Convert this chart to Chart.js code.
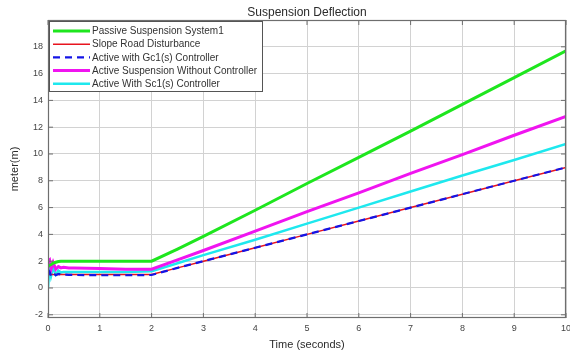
<!DOCTYPE html>
<html lang="en">
<head>
    <meta charset="UTF-8">
    <title>Suspension Deflection</title>
    <script src="https://cdn.jsdelivr.net/npm/chart.js@4.4.1/dist/chart.umd.min.js"></script>
    <style>
        body { margin: 0; background: #fff; }
        #chart { display: block; }
    </style>
</head>
<body>
    <canvas id="chart" width="570" height="356"></canvas>
    <script>
        // time axis (seconds), denser at the start for the transient wiggles
        const time = [0, 0.03, 0.06, 0.1, 0.15, 0.2, 0.25, 0.3, 0.4, 0.5, 1, 1.5, 2, 2.5, 3, 4, 5, 6, 7, 8, 9, 10];

        const passive   = [1.6, 1.7, 1.75, 1.85, 1.92, 1.97, 2.0, 2.0, 2.0, 2.0, 2.0, 2.0, 2.0, 2.9, 3.85, 5.8, 7.8, 9.75, 11.7, 13.7, 15.7, 17.7];
        const road      = [1.0, 1.0, 1.0, 1.0, 1.0, 1.0, 1.0, 1.0, 1.0, 1.0, 1.0, 1.0, 1.0, 1.5, 2.0, 3.0, 4.0, 5.0, 6.0, 7.0, 8.0, 9.0];
        const activeGc  = [1.0, 1.2, 0.9, 1.1, 0.95, 1.05, 1.0, 1.0, 0.98, 0.97, 0.95, 0.95, 0.97, 1.5, 2.0, 3.0, 4.0, 5.0, 6.0, 7.0, 8.0, 9.0];
        const noCtrl    = [2.0, 2.1, 1.4, 1.9, 1.4, 1.6, 1.5, 1.55, 1.5, 1.5, 1.45, 1.4, 1.4, 2.1, 2.8, 4.25, 5.7, 7.1, 8.55, 9.95, 11.4, 12.8];
        const activeSc  = [0.0, 1.8, 0.9, 1.5, 1.0, 1.3, 1.15, 1.2, 1.2, 1.2, 1.2, 1.2, 1.25, 1.85, 2.45, 3.6, 4.8, 6.0, 7.2, 8.4, 9.55, 10.75];

        const yTicks = [-2, 0, 2, 4, 6, 8, 10, 12, 14, 16, 18];
        const seriesNames = [
            'Passive Suspension System1',
            'Slope Road Disturbance',
            'Active with Gc1(s) Controller',
            'Active Suspension Without Controller',
            'Active With Sc1(s) Controller'
        ];

        const FONT = '"Liberation Sans", Arial, sans-serif';

        // matlab-ish frame, tick marks, titles and boxed legend
        const matlabPlugin = {
            id: 'matlab',
            afterDraw(chart) {
                const ctx = chart.ctx;
                const a = chart.chartArea;
                const xs = chart.scales.x, ys = chart.scales.y;
                ctx.save();

                // frame
                ctx.strokeStyle = '#6e6e6e';
                ctx.lineWidth = 1.2;
                ctx.strokeRect(a.left + 0.5, a.top + 0.5, a.right - a.left - 1, a.bottom - a.top - 1);

                // inner tick marks
                ctx.lineWidth = 1;
                ctx.beginPath();
                xs.ticks.forEach(t => {
                    const px = xs.getPixelForValue(t.value);
                    ctx.moveTo(px, a.bottom); ctx.lineTo(px, a.bottom - 5);
                    ctx.moveTo(px, a.top); ctx.lineTo(px, a.top + 5);
                });
                ys.ticks.forEach(t => {
                    const py = ys.getPixelForValue(t.value);
                    ctx.moveTo(a.left, py); ctx.lineTo(a.left + 5, py);
                    ctx.moveTo(a.right, py); ctx.lineTo(a.right - 5, py);
                });
                ctx.stroke();

                // titles
                ctx.fillStyle = '#2b2b2b';
                ctx.textAlign = 'center';
                ctx.textBaseline = 'middle';
                ctx.font = '12px ' + FONT;
                ctx.fillText('Suspension Deflection', (a.left + a.right) / 2, 13);
                ctx.font = '11px ' + FONT;
                ctx.fillText('Time (seconds)', (a.left + a.right) / 2, 345);
                ctx.save();
                ctx.translate(15, (a.top + a.bottom) / 2);
                ctx.rotate(-Math.PI / 2);
                ctx.fillText('meter(m)', 0, 0);
                ctx.restore();

                // legend box
                const bx = a.left + 1, by = a.top + 1, bw = 213, bh = 70;
                ctx.fillStyle = '#fff';
                ctx.fillRect(bx, by, bw, bh);
                ctx.strokeStyle = '#555';
                ctx.lineWidth = 1;
                ctx.strokeRect(bx + 0.5, by + 0.5, bw, bh);

                ctx.font = '10px ' + FONT;
                ctx.textAlign = 'left';
                chart.data.datasets.forEach((ds, i) => {
                    const y = by + 10 + i * 13.2;
                    ctx.strokeStyle = ds.borderColor;
                    ctx.lineWidth = ds.borderWidth;
                    ctx.setLineDash(ds.borderDash || []);
                    ctx.beginPath();
                    ctx.moveTo(bx + 4, y);
                    ctx.lineTo(bx + 41, y);
                    ctx.stroke();
                    ctx.setLineDash([]);
                    ctx.fillStyle = '#333';
                    ctx.fillText(ds.label, bx + 43, y + 0.5);
                });
                ctx.restore();
            }
        };

        const colors = ['#1ee61e', '#e8141e', '#1414e6', '#f014f0', '#1ee8ee'];
        const widths = [3, 1.5, 2.2, 3, 2.5];
        const values = [passive, road, activeGc, noCtrl, activeSc];

        const chart = new Chart(document.getElementById('chart').getContext('2d'), {
            type: 'line',
            data: {
                labels: time,
                datasets: values.map((v, i) => ({
                    label: seriesNames[i],
                    data: v,
                    borderColor: colors[i],
                    backgroundColor: colors[i],
                    borderWidth: widths[i],
                    borderDash: i === 2 ? [7, 5] : undefined,
                    pointRadius: 0,
                    tension: 0,
                    order: i === 2 ? -1 : i
                }))
            },
            options: {
                responsive: false,
                animation: false,
                layout: { padding: { top: 20, right: 4, left: 0, bottom: 0 } },
                plugins: {
                    legend: { display: false },
                    title: { display: false },
                    tooltip: { enabled: false }
                },
                scales: {
                    x: {
                        type: 'linear',
                        min: 0,
                        max: 10,
                        ticks: { stepSize: 1, color: '#444', padding: 5, maxRotation: 0, font: { family: FONT, size: 9 } },
                        grid: { color: '#d2d2d2', drawTicks: false },
                        border: { display: false },
                        afterFit(s) { s.height = 38; s.paddingLeft = 0; s.paddingRight = 0; }
                    },
                    y: {
                        min: -2.24,
                        max: 20,
                        afterBuildTicks(s) { s.ticks = yTicks.map(v => ({ value: v })); },
                        ticks: { color: '#444', padding: 5, font: { family: FONT, size: 9 } },
                        grid: { color: '#d2d2d2', drawTicks: false },
                        border: { display: false },
                        afterFit(s) { s.width = 48; s.paddingTop = 0; s.paddingBottom = 0; }
                    }
                }
            },
            plugins: [matlabPlugin]
        });
    </script>
</body>
</html>
